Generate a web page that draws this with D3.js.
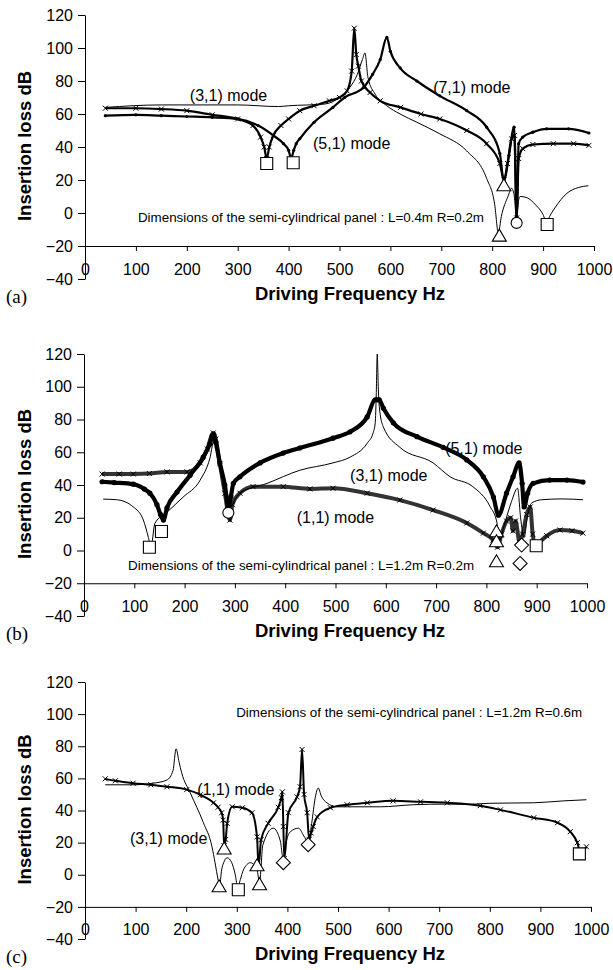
<!DOCTYPE html>
<html>
<head>
<meta charset="utf-8">
<script src="https://cdn.jsdelivr.net/npm/d3@7"></script>
<style>
    body { margin: 0; background: #fff; }
    svg { display: block; font-family: "Liberation Sans", Arial, sans-serif; }
</style>
</head>
<body>
<div id="chart"></div>
<script>
/* * * * * * * * * * * * * *
*   Insertion loss panels   *
* * * * * * * * * * * * * */

// tick values shared by the three panels
const xTickValues = [0, 100, 200, 300, 400, 500, 600, 700, 800, 900, 1000];
const yTickValues = [-40, -20, 0, 20, 40, 60, 80, 100, 120];

// ---- panel (a) : L=0.4m R=0.2m   [frequency Hz, insertion loss dB]
const aMode31 = [[40,64],[150,65.5],[300,65.5],[380,64.5],[400,65],[470,66],[500,70],[520,76],[535,84],[545,93],[550,97],[556,82],[570,72],[593,65],[619,60],[652,55],[697,48],[750,37.6],[789,21],[805,5],[812,-12],[818,-2],[831,10],[838,15],[843,11],[848,-4],[852,8],[855,10],[870,9],[885,5],[900,-1],[907,-6],[913,-2],[923,3],[947,12],[970,15.5],[989,16.5]];
const aMode51 = [[40,63.5],[100,63.5],[150,63],[200,62],[250,59.5],[300,57],[330,53],[345,46],[352,40],[357,33],[362,40],[370,47],[385,53],[400,57],[422,62],[450,65],[480,68],[500,70],[515,74],[524,86],[529,112],[533,96],[537,89],[543,80],[560,73],[580,68],[620,64],[660,60],[697,57],[750,50],[789,42],[815,30],[823,20],[830,30],[838,45],[844,47],[848,-3],[852,33],[860,39],[880,41.5],[920,42],[960,42],[990,41]];
const aMode71 = [[40,59],[100,59.5],[150,59],[200,58.5],[250,58],[300,57],[340,53],[370,47],[390,42],[400,38],[405,33],[410,38],[415,42],[422,45],[450,55],[487,64],[510,70],[547,76],[565,84],[580,93],[593,106.5],[600,98],[619,88],[652,80],[697,71],[750,62],[789,52],[815,36],[823,19],[833,35],[843,52],[848,-2],[852,42],[860,46],[880,49],[907,51],[950,51],[990,48.5]];
const aSquares = [[357,30],[409,30.5],[908,-7]];
const aTriangles = [[823,16.5],[814,-14]];
const aCircles = [[848,-6]];

// ---- panel (b) : L=1.2m R=0.2m
const bMode51 = [[36,42],[60,41.5],[98,40.5],[120,37.5],[131,35],[145,28],[152,22],[158,18.6],[165,26],[185,35.7],[211,46],[237,57],[250,65],[255,70],[258,71],[262,66],[270,53.5],[280,40],[287,27],[292,33],[297,41],[310,45],[350,53.5],[396,59.5],[429,62.6],[495,68.6],[529,72.5],[563,81.6],[579,92],[583,92],[587,92],[595,87],[615,78],[662,69.5],[714,63],[761,55.3],[794,45],[814,32.6],[824,21.6],[840,35],[853,45],[865,53.5],[871,41],[875,26.6],[882,35],[893,41],[926,43],[960,43],[992,41.8]];
const bMode31 = [[38,31.4],[65,31],[98,26.6],[118,18.6],[128,8],[133,2],[141,16.6],[165,23.4],[197,32.6],[231,43],[250,56],[260,69],[268,55],[278,40],[285,30],[290,26],[300,31],[310,35],[364,41],[429,49],[495,53.5],[529,57],[563,65.5],[575,72],[579,78],[581,95],[583,120],[585,100],[587,88],[595,75.5],[628,63],[694,53.5],[728,45],[773,39],[807,27],[821,17],[826,6],[835,15],[850,30],[862,38],[868,20],[875,8],[882,22],[890,29],[910,31],[950,31.5],[992,31]];
const bMode11 = [[36,46.7],[70,46.7],[98,46.7],[130,47],[165,48],[205,48],[231,53.5],[245,62],[257,71.8],[262,68],[270,53],[280,35],[290,18.6],[295,28],[310,35],[336,39],[396,39],[449,37.6],[495,38],[563,35],[628,30.8],[694,24.7],[761,16.8],[794,10.6],[813,6.4],[822,2],[830,10],[840,18],[848,20],[853,12],[858,18],[866,5],[872,10],[880,22],[887,26.6],[892,10],[897,3],[905,5],[920,9],[946,12.5],[970,12],[992,10.6]];
const bSquares = [[130,2],[154,11.6],[899,2.9]];
const bTriangles = [[820,11.4],[820,5.3],[820,-6.9]];
const bCircles = [[287,23]];
const bDiamonds = [[870,3.3],[867,-7.9]];

// ---- panel (c) : L=1.2m R=0.6m
const cMode11 = [[40,59.7],[60,58.5],[95,57],[130,56],[162,54.8],[201,53],[228,49.8],[254,44.8],[263,42],[270,38.6],[273,34],[275,18],[278,22],[281,32],[291,42.3],[311,41.7],[330,38.6],[340,23.6],[343,5],[348,21.8],[362,32],[382,42],[388,48],[390,51.6],[392,30],[394,10],[402,38.6],[419,48.5],[425,54.8],[429,78],[433,50],[439,38.6],[443,22],[447,26],[451,30],[459,36],[485,41.7],[518,43.6],[558,44.8],[609,46],[663,45.4],[716,44.8],[781,43],[821,40.4],[887,35.5],[934,32.4],[959,26.8],[973,20],[979,14],[991,17.4]];
const cMode31 = [[40,56],[95,56],[135,57],[162,59],[174,65],[180,78.4],[186,70],[191,63.5],[208,51],[234,32.4],[251,17.4],[257,7.5],[263,-3],[266,-7],[270,3],[274,7.5],[281,10.6],[290,7.5],[297,0],[302,-8],[307,-3],[313,3],[327,7.5],[340,3],[345,-5],[348,5],[351,18],[372,29],[386,21],[390,12],[392,8],[396,18],[406,26.8],[422,29],[431,25],[438,21],[441,19],[448,32],[455,48],[461,54],[467,49],[478,44.8],[498,42.3],[584,42.3],[649,43.6],[716,44],[755,43.8],[800,44.5],[887,44.8],[946,46],[991,46.7]];
const cTriangles = [[275,16],[265,-7.5],[340,5.6],[345,-6.2]];
const cSquares = [[303,-9.3],[977,13]];
const cDiamonds = [[392,7.5],[441,18.7]];

const svg = d3.select("#chart").append("svg")
    .attr("width", 613)
    .attr("height", 970);

class InsertionLossPanel {

    constructor(_svg, _config) {
        this.svg = _svg;
        this.config = _config;
        this.initVis();
    }

    initVis() {
        let vis = this;
        let c = vis.config;

        vis.x = d3.scaleLinear().domain([0, 1000]).range([c.left, c.right]);
        vis.y = d3.scaleLinear().domain([-40, 120]).range([c.bottom, c.top]);

        vis.g = vis.svg.append("g");

        // y axis, full height -40..120
        let yAxis = d3.axisLeft(vis.y)
            .tickValues(yTickValues)
            .tickSize(7)
            .tickSizeOuter(0)
            .tickPadding(5)
            .tickFormat(d => d < 0 ? "\u2212" + Math.abs(d) : String(d));
        vis.g.append("g")
            .attr("transform", "translate(" + c.left + ",0)")
            .call(yAxis)
            .attr("font-family", null)
            .attr("font-size", null)
            .call(g => g.selectAll("text").style("font-size", "16px").attr("fill", "#000"))
            .call(g => g.selectAll("line,path").attr("stroke", "#000"));

        // x axis crosses at -20, labels sit low near -40
        let axisY = vis.y(-20);
        let xAxis = d3.axisBottom(vis.x)
            .tickValues(xTickValues)
            .tickSize(5)
            .tickSizeOuter(0)
            .tickPadding(c.bottom - 10 - axisY - 10.7)
            .tickFormat(d => String(d));
        vis.g.append("g")
            .attr("transform", "translate(0," + axisY + ")")
            .call(xAxis)
            .attr("font-family", null)
            .attr("font-size", null)
            .call(g => g.selectAll("text").style("font-size", "16px").attr("fill", "#000"))
            .call(g => g.selectAll("line,path").attr("stroke", "#000"));

        // titles
        vis.g.append("text")
            .attr("x", 350)
            .attr("y", c.bottom + 21)
            .attr("text-anchor", "middle")
            .style("font-size", "18.5px")
            .style("font-weight", "bold")
            .text("Driving Frequency Hz");

        vis.g.append("text")
            .attr("transform", "translate(31," + ((c.top + c.bottom) / 2 - 1) + ") rotate(-90)")
            .attr("text-anchor", "middle")
            .style("font-size", "18.5px")
            .style("font-weight", "bold")
            .text("Insertion loss dB");

        vis.g.append("text")
            .attr("x", 6)
            .attr("y", c.bottom + 24)
            .style("font-family", "'Liberation Serif', 'Times New Roman', serif")
            .style("font-size", "19px")
            .text(c.letter);

        vis.updateVis();
    }

    updateVis() {
        let vis = this;
        let c = vis.config;

        let line = d3.line()
            .x(d => vis.x(d[0]))
            .y(d => vis.y(d[1]))
            .curve(d3.curveMonotoneX);

        c.series.forEach(s => {
            vis.g.append("path")
                .datum(s.data)
                .attr("d", line)
                .attr("fill", "none")
                .attr("stroke", s.color || "#000")
                .attr("stroke-width", s.width)
                .attr("stroke-linejoin", "round");

            if (s.marker === "x") {
                vis.g.append("g").selectAll("path")
                    .data(s.data)
                    .join("path")
                    .attr("transform", d => "translate(" + vis.x(d[0]) + "," + vis.y(d[1]) + ")")
                    .attr("d", "M-2.5,-2.5L2.5,2.5M-2.5,2.5L2.5,-2.5")
                    .attr("stroke", "#000")
                    .attr("stroke-width", 1);
            } else if (s.marker === "dot") {
                vis.g.append("g").selectAll("circle")
                    .data(s.data)
                    .join("circle")
                    .attr("cx", d => vis.x(d[0]))
                    .attr("cy", d => vis.y(d[1]))
                    .attr("r", s.dotR || 2);
            }
        });

        // open marker symbols
        let shapes = {
            square: "M-6,-6H6V6H-6Z",
            triangle: "M0,-7L7,5L-7,5Z",
            diamond: "M0,-7L7,0L0,7L-7,0Z",
            circle: "M5.5,0A5.5,5.5 0 1 1 -5.5,0A5.5,5.5 0 1 1 5.5,0Z"
        };
        c.symbols.forEach(sym => {
            vis.g.append("g").selectAll("path")
                .data(sym.data)
                .join("path")
                .attr("transform", d => "translate(" + vis.x(d[0]) + "," + vis.y(d[1]) + ")")
                .attr("d", shapes[sym.shape])
                .attr("fill", "#fff")
                .attr("stroke", "#000")
                .attr("stroke-width", 1.1);
        });

        // annotations
        c.labels.forEach(l => {
            vis.g.append("text")
                .attr("x", vis.x(l.f))
                .attr("y", vis.y(l.v))
                .attr("dy", "0.35em")
                .style("font-size", l.size + "px")
                .text(l.text);
        });
    }
}

new InsertionLossPanel(svg, {
    letter: "(a)", left: 85, right: 594, top: 15, bottom: 279,
    series: [
        {data: aMode31, width: 1},
        {data: aMode51, width: 2.2, marker: "x"},
        {data: aMode71, width: 2.2, marker: "dot", dotR: 1.6}
    ],
    symbols: [
        {shape: "square", data: aSquares},
        {shape: "triangle", data: aTriangles},
        {shape: "circle", data: aCircles}
    ],
    labels: [
        {f: 206, v: 71.5, size: 16, text: "(3,1) mode"},
        {f: 448, v: 42.4, size: 16, text: "(5,1) mode"},
        {f: 684, v: 76.4, size: 16, text: "(7,1) mode"},
        {f: 104, v: -2.4, size: 13.4, text: "Dimensions of the semi-cylindrical panel : L=0.4m R=0.2m"}
    ]
});

new InsertionLossPanel(svg, {
    letter: "(b)", left: 84, right: 587, top: 354, bottom: 616,
    series: [
        {data: bMode11, width: 4, marker: "x", color: "#333"},
        {data: bMode31, width: 1},
        {data: bMode51, width: 4.2, marker: "dot", dotR: 2.6}
    ],
    symbols: [
        {shape: "square", data: bSquares},
        {shape: "triangle", data: bTriangles},
        {shape: "circle", data: bCircles},
        {shape: "diamond", data: bDiamonds}
    ],
    labels: [
        {f: 718, v: 62.6, size: 16, text: "(5,1) mode"},
        {f: 529, v: 46.1, size: 16, text: "(3,1) mode"},
        {f: 423, v: 20.4, size: 16, text: "(1,1) mode"},
        {f: 87.5, v: -8.9, size: 13.4, text: "Dimensions of the semi-cylindrical panel : L=1.2m R=0.2m"}
    ]
});

new InsertionLossPanel(svg, {
    letter: "(c)", left: 85, right: 591, top: 682, bottom: 939,
    series: [
        {data: cMode31, width: 1},
        {data: cMode11, width: 2, marker: "x"}
    ],
    symbols: [
        {shape: "square", data: cSquares},
        {shape: "triangle", data: cTriangles},
        {shape: "diamond", data: cDiamonds}
    ],
    labels: [
        {f: 221.6, v: 52.9, size: 16, text: "(1,1) mode"},
        {f: 89, v: 22.4, size: 16, text: "(3,1) mode"},
        {f: 298.7, v: 101.4, size: 13.4, text: "Dimensions of the semi-cylindrical panel : L=1.2m R=0.6m"}
    ]
});
</script>
</body>
</html>
